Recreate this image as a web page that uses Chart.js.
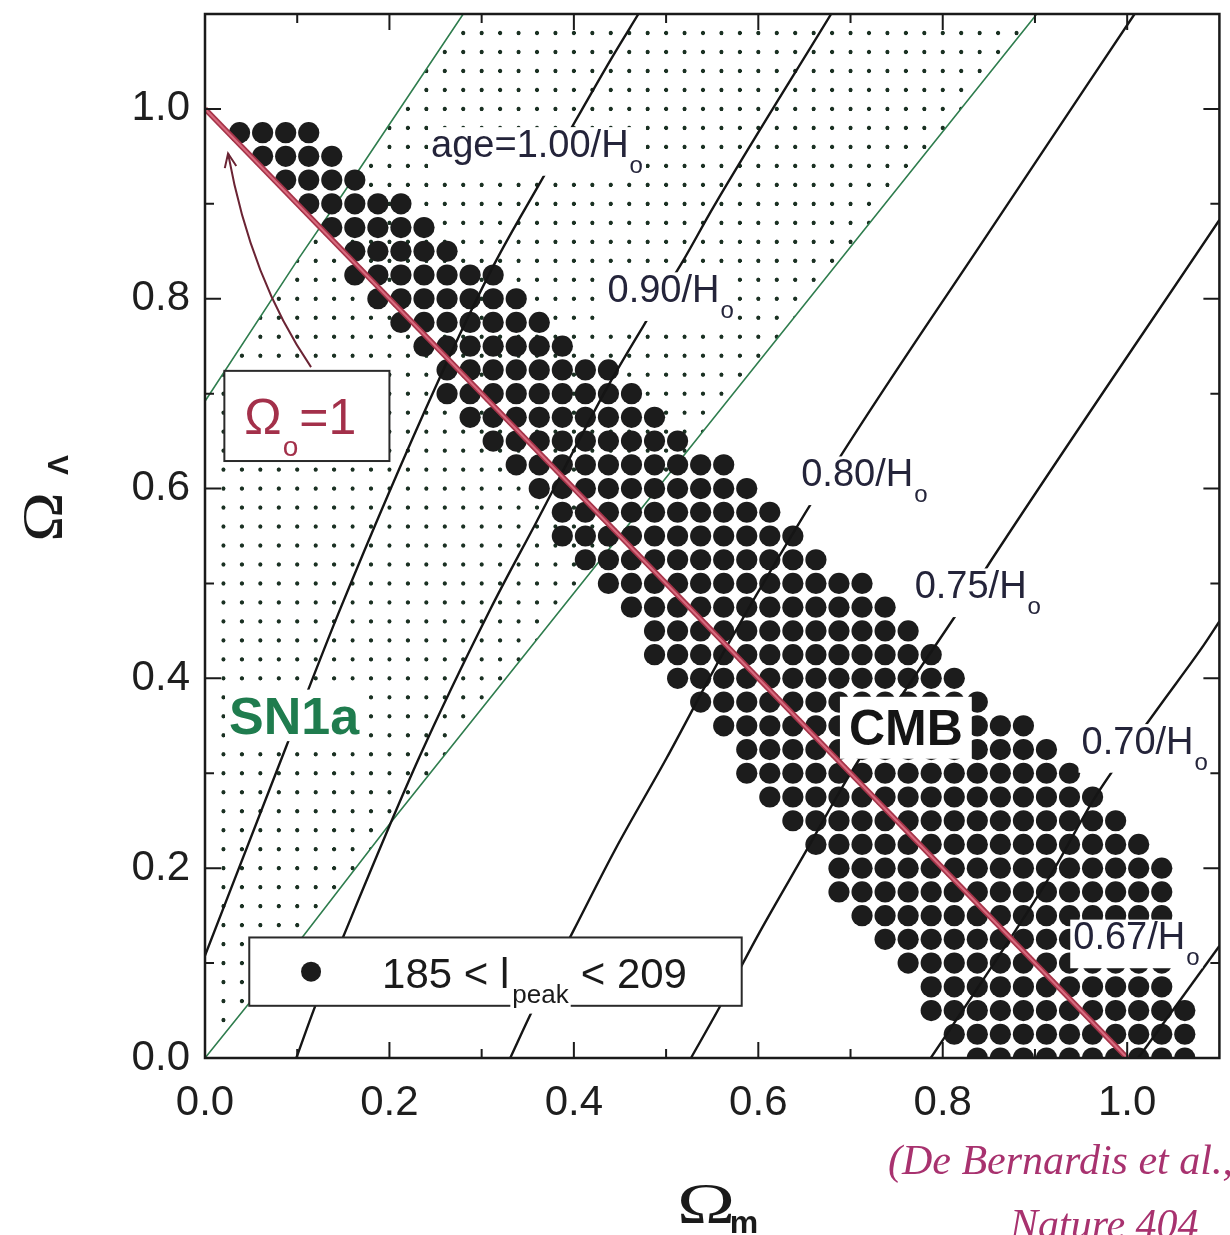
<!DOCTYPE html>
<html>
<head>
<meta charset="utf-8">
<title>CMB + SN1a constraints in the (Omega_m, Omega_Lambda) plane</title>
<script src="https://cdn.jsdelivr.net/npm/chart.js@4.4.1/dist/chart.umd.min.js"></script>
<style>
  html, body { margin: 0; padding: 0; background: #ffffff; }
  #wrap { position: relative; width: 1230px; height: 1235px; overflow: hidden; background:#fff; }
  canvas { display: block; }
</style>
</head>
<body>
<div id="wrap"><canvas id="chart" width="1230" height="1235"></canvas></div>
<script>
// ---------------- axes ----------------
const xTickValues = [0.0, 0.2, 0.4, 0.6, 0.8, 1.0];
const yTickValues = [0.0, 0.2, 0.4, 0.6, 0.8, 1.0];
const minorTickValues = [0.1, 0.3, 0.5, 0.7, 0.9];
const axisMin = 0.0;
const axisMax = 1.1;

// ---------------- CMB region: 185 < l_peak < 209 (grid of big dots) ----------------
// one entry per row: Omega_Lambda of the row, first and last Omega_m dot in that row
const cmbStep = 0.025;
const cmbLambda = [0.975,0.950,0.925,0.900,0.875,0.850,0.825,0.800,0.775,0.750,
                   0.725,0.700,0.675,0.650,0.625,0.600,0.575,0.550,0.525,0.500,
                   0.475,0.450,0.425,0.400,0.375,0.350,0.325,0.300,0.275,0.250,
                   0.225,0.200,0.175,0.150,0.125,0.100,0.075,0.050,0.025,0.000];
const cmbFromOm = [0.0375,0.0625,0.0875,0.1125,0.1375,0.1625,0.1625,0.1875,0.2125,0.2375,
                   0.2625,0.2625,0.2875,0.3125,0.3375,0.3625,0.3875,0.3875,0.4125,0.4375,
                   0.4625,0.4875,0.4875,0.5125,0.5375,0.5625,0.5875,0.5875,0.6125,0.6375,
                   0.6625,0.6875,0.6875,0.7125,0.7375,0.7625,0.7875,0.7875,0.8125,0.8375];
const cmbToOm   = [0.1125,0.1375,0.1625,0.2125,0.2375,0.2625,0.3125,0.3375,0.3625,0.3875,
                   0.4375,0.4625,0.4875,0.5125,0.5625,0.5875,0.6125,0.6375,0.6625,0.7125,
                   0.7375,0.7625,0.7875,0.8125,0.8375,0.8875,0.9125,0.9375,0.9625,0.9875,
                   1.0125,1.0375,1.0375,1.0375,1.0375,1.0375,1.0375,1.0625,1.0625,1.0625];

// ---------------- SN1a band (green boundaries, dotted inside) ----------------
const snLowerOm = [0.000, 0.107, 0.203, 0.520, 0.902];
const snLowerL  = [0.000, 0.129, 0.250, 0.636, 1.100];
const snUpperOm = [0.000, 0.0985, 0.152, 0.280];
const snUpperL  = [0.692, 0.838, 0.914, 1.100];
const snDotStep = 0.02;

// ---------------- age contours ----------------
const age100Om = [0.000, 0.088, 0.147, 0.250, 0.314, 0.362, 0.408, 0.440, 0.470];
const age100L  = [0.108, 0.328, 0.474, 0.707, 0.837, 0.920, 0.998, 1.052, 1.100];
const age090Om = [0.099, 0.120, 0.150, 0.232, 0.309, 0.359, 0.437, 0.487, 0.519, 0.551, 0.679];
const age090L  = [0.000, 0.056, 0.128, 0.316, 0.472, 0.564, 0.708, 0.790, 0.841, 0.896, 1.100];
const age080Om = [0.331, 0.355, 0.400, 0.445, 0.500, 0.566, 0.680, 0.850, 1.008];
const age080L  = [0.000, 0.050, 0.135, 0.220, 0.315, 0.434, 0.620, 0.870, 1.100];
const age075Om = [0.527, 0.556, 0.600, 0.650, 0.700, 0.784, 0.824, 0.857, 1.100];
const age075L  = [0.000, 0.050, 0.130, 0.215, 0.300, 0.423, 0.481, 0.531, 0.883];
const age070Om = [0.787, 0.838, 0.916, 0.966, 1.033, 1.083, 1.100];
const age070L  = [0.000, 0.074, 0.191, 0.276, 0.368, 0.435, 0.460];
const age067Om = [1.012, 1.100];
const age067L  = [0.000, 0.118];

// labels on the contours
const ageLabelText = ['age=1.00/H', '0.90/H', '0.80/H', '0.75/H', '0.70/H', '0.67/H'];
const ageLabelOm   = [0.360, 0.505, 0.715, 0.838, 1.019, 1.010];
const ageLabelL    = [0.964, 0.811, 0.617, 0.499, 0.335, 0.129];

// flat universe line Omega_o = Omega_m + Omega_Lambda = 1
const flatOm = [0.0, 1.0];
const flatL  = [1.0, 0.0];

// annotation anchors (data coordinates)
const cmbLabelPos  = [0.760, 0.349];
const snLabelPos   = [0.0966, 0.361];
const omegaBoxOm   = [0.021, 0.200];
const omegaBoxL    = [0.629, 0.724];
const arrowOm      = [0.115, 0.050, 0.025];
const arrowL       = [0.728, 0.820, 0.953];
const legendBoxOm  = [0.048, 0.582];
const legendBoxL   = [0.055, 0.127];
const legendDotOm  = 0.115;
const legendTextOm = 0.192;

const SANS  = "'Liberation Sans', Arial, Helvetica, sans-serif";
const SERIF = "'Liberation Serif', 'Times New Roman', serif";

// ---------------- build chart data ----------------
const pts = (xs, ys) => xs.map((v, k) => ({ x: v, y: ys[k] }));
const cmbPoints = [];
cmbLambda.forEach((L, r) => {
  const n = Math.round((cmbToOm[r] - cmbFromOm[r]) / cmbStep) + 1;
  for (let k = 0; k < n; k++) cmbPoints.push({ x: +(cmbFromOm[r] + k * cmbStep).toFixed(4), y: L });
});

const ageLine = (xs, ys, color) => ({
  type: 'line', data: pts(xs, ys), showLine: true, borderColor: color || '#151515',
  borderWidth: 2.4, pointRadius: 0, cubicInterpolationMode: 'monotone', fill: false, order: 3
});

// dot tile for the SN1a band
const tile = document.createElement('canvas');
tile.width = 40; tile.height = 40;
(function () {
  const t = tile.getContext('2d');
  t.fillStyle = '#1a3022';
  t.beginPath(); t.arc(20, 20, 4.5, 0, Math.PI * 2); t.fill();
})();

function measureRuns(ctx, runs) {
  let w = 0;
  for (const r of runs) { ctx.font = r.font; w += ctx.measureText(r.text).width + (r.gap || 0); }
  return w;
}
function drawRuns(ctx, x, base, runs) {
  let cx = x;
  for (const r of runs) {
    ctx.font = r.font; ctx.fillStyle = r.color;
    ctx.textAlign = 'left'; ctx.textBaseline = 'alphabetic';
    ctx.fillText(r.text, cx + (r.gap || 0), base + (r.dy || 0));
    cx += ctx.measureText(r.text).width + (r.gap || 0);
  }
  return cx;
}

const overlay = {
  id: 'overlay',
  beforeDatasetsDraw(chart) {
    const { ctx, chartArea: a, scales: { x, y } } = chart;
    ctx.save();
    ctx.beginPath();
    ctx.rect(a.left + 7, a.top + 7, a.right - a.left - 14, a.bottom - a.top - 12);
    ctx.clip();
    ctx.beginPath();
    snLowerOm.forEach((m, k) => {
      const X = x.getPixelForValue(m), Y = y.getPixelForValue(snLowerL[k]);
      if (k === 0) ctx.moveTo(X, Y); else ctx.lineTo(X, Y);
    });
    for (let k = snUpperOm.length - 1; k >= 0; k--) ctx.lineTo(x.getPixelForValue(snUpperOm[k]), y.getPixelForValue(snUpperL[k]));
    ctx.closePath();
    ctx.clip();
    const x0 = x.getPixelForValue(0), y0 = y.getPixelForValue(0);
    const sx = x.getPixelForValue(snDotStep) - x0;
    const sy = y0 - y.getPixelForValue(snDotStep);
    const pat = ctx.createPattern(tile, 'repeat');
    const ax = sx / 40, ay = sy / 40;
    pat.setTransform(new DOMMatrix([ax, 0, 0, ay, x0 - 20 * ax, y0 - 20 * ay]));
    ctx.fillStyle = pat;
    ctx.fillRect(a.left, a.top, a.right - a.left, a.bottom - a.top);
    ctx.restore();
  },
  afterDatasetsDraw(chart) {
    const { ctx, chartArea: a, scales: { x, y } } = chart;
    const X = v => x.getPixelForValue(v), Y = v => y.getPixelForValue(v);
    ctx.save();
    ctx.beginPath(); ctx.rect(a.left, a.top, a.right - a.left, a.bottom - a.top); ctx.clip();

    // age labels
    const F = 38, labCol = '#24243a';
    ageLabelText.forEach((t, k) => {
      const runs = [
        { text: t, font: `${F}px ${SANS}`, color: labCol },
        { text: 'o', font: `${Math.round(F * 0.62)}px ${SANS}`, color: labCol, dy: Math.round(F * 0.42), gap: 1 }
      ];
      const w = measureRuns(ctx, runs);
      const cx = X(ageLabelOm[k]), cy = Y(ageLabelL[k]);
      const base = cy + F * 0.36;
      const left = cx - w / 2;
      ctx.fillStyle = '#ffffff';
      ctx.fillRect(left - 3, base - F * 0.78, w + 6, F * 0.78 + F * 0.5);
      drawRuns(ctx, left, base, runs);
    });

    // CMB label
    {
      const f = 50;
      ctx.font = `bold ${f}px ${SANS}`;
      const w = ctx.measureText('CMB').width;
      const cx = X(cmbLabelPos[0]), cy = Y(cmbLabelPos[1]);
      ctx.fillStyle = '#ffffff';
      ctx.fillRect(cx - w / 2 - 9, cy - f * 0.36 - 12, w + 18, f * 0.72 + 26);
      ctx.fillStyle = '#151515'; ctx.textAlign = 'center'; ctx.textBaseline = 'alphabetic';
      ctx.fillText('CMB', cx, cy + f * 0.36);
    }
    // SN1a label
    {
      const f = 52;
      ctx.font = `bold ${f}px ${SANS}`;
      const w = ctx.measureText('SN1a').width;
      const cx = X(snLabelPos[0]), cy = Y(snLabelPos[1]);
      ctx.fillStyle = '#ffffff';
      ctx.fillRect(cx - w / 2 - 4, cy - f * 0.38 - 6, w + 8, f * 0.76 + 12);
      ctx.fillStyle = '#1f7c4e'; ctx.textAlign = 'center'; ctx.textBaseline = 'alphabetic';
      ctx.fillText('SN1a', cx, cy + f * 0.36);
    }

    // Omega_o = 1 box
    {
      const l = X(omegaBoxOm[0]), r = X(omegaBoxOm[1]);
      const t = Y(omegaBoxL[1]), b = Y(omegaBoxL[0]);
      ctx.fillStyle = '#ffffff'; ctx.fillRect(l, t, r - l, b - t);
      ctx.strokeStyle = '#2a2a2a'; ctx.lineWidth = 2; ctx.strokeRect(l, t, r - l, b - t);
      const red = '#a3304a';
      drawRuns(ctx, l + 20, t + 63, [
        { text: 'Ω', font: `50px ${SANS}`, color: red },
        { text: 'o', font: `28px ${SANS}`, color: red, dy: 22, gap: 1 },
        { text: '=1', font: `50px ${SANS}`, color: red, gap: 1 }
      ]);
      // curved arrow to the flat line
      const p0 = [X(arrowOm[0]), Y(arrowL[0])], p1 = [X(arrowOm[1]), Y(arrowL[1])], p2 = [X(arrowOm[2]), Y(arrowL[2])];
      ctx.strokeStyle = '#6b2434'; ctx.lineWidth = 2;
      ctx.beginPath(); ctx.moveTo(p0[0], p0[1]); ctx.quadraticCurveTo(p1[0], p1[1], p2[0], p2[1]); ctx.stroke();
      const ang = Math.atan2(p2[1] - p1[1], p2[0] - p1[0]);
      ctx.beginPath();
      ctx.moveTo(p2[0] - 15 * Math.cos(ang - 0.4), p2[1] - 15 * Math.sin(ang - 0.4));
      ctx.lineTo(p2[0], p2[1]);
      ctx.lineTo(p2[0] - 15 * Math.cos(ang + 0.4), p2[1] - 15 * Math.sin(ang + 0.4));
      ctx.stroke();
    }

    // legend box
    {
      const l = X(legendBoxOm[0]), r = X(legendBoxOm[1]);
      const t = Y(legendBoxL[1]), b = Y(legendBoxL[0]);
      ctx.fillStyle = '#ffffff'; ctx.fillRect(l, t, r - l, b - t);
      ctx.strokeStyle = '#2a2a2a'; ctx.lineWidth = 2; ctx.strokeRect(l, t, r - l, b - t);
      const mid = (t + b) / 2;
      ctx.fillStyle = '#1c1c1c';
      ctx.beginPath(); ctx.arc(X(legendDotOm), mid, 10, 0, Math.PI * 2); ctx.fill();
      const base = mid + 16;
      let cx = drawRuns(ctx, X(legendTextOm), base, [{ text: '185 < l', font: `42px ${SANS}`, color: '#1a1a1a' }]);
      ctx.font = `26px ${SANS}`;
      const wp = ctx.measureText('peak').width;
      ctx.fillStyle = '#ffffff'; ctx.fillRect(cx + 1, base + 4, wp + 4, 22);
      cx = drawRuns(ctx, cx + 3, base + 15, [{ text: 'peak', font: `26px ${SANS}`, color: '#1a1a1a' }]);
      drawRuns(ctx, cx + 12, base, [{ text: '< 209', font: `42px ${SANS}`, color: '#1a1a1a' }]);
    }
    ctx.restore();
  },
  afterDraw(chart) {
    const { ctx, chartArea: a, scales: { x, y } } = chart;
    ctx.save();
    // frame
    ctx.strokeStyle = '#1a1a1a'; ctx.lineWidth = 2.5;
    ctx.strokeRect(a.left, a.top, a.right - a.left, a.bottom - a.top);
    // inward ticks on all four sides
    ctx.lineWidth = 2;
    const tick = (vals, len) => {
      vals.forEach(v => {
        const px = x.getPixelForValue(v), py = y.getPixelForValue(v);
        ctx.beginPath();
        ctx.moveTo(px, a.bottom); ctx.lineTo(px, a.bottom - len);
        ctx.moveTo(px, a.top); ctx.lineTo(px, a.top + len);
        ctx.moveTo(a.left, py); ctx.lineTo(a.left + len, py);
        ctx.moveTo(a.right, py); ctx.lineTo(a.right - len, py);
        ctx.stroke();
      });
    };
    tick(xTickValues.slice(1), 16);
    tick(minorTickValues, 9);

    // x title  Omega_m
    ctx.fillStyle = '#1a1a1a';
    ctx.save();
    ctx.translate(706, 1208); ctx.scale(1.35, 1);
    ctx.font = `58px ${SERIF}`; ctx.textAlign = 'center'; ctx.textBaseline = 'middle';
    ctx.fillText('Ω', 0, 0);
    ctx.restore();
    ctx.font = `bold 32px ${SANS}`; ctx.textAlign = 'center'; ctx.textBaseline = 'middle';
    ctx.fillText('m', 744, 1224);

    // y title Omega_Lambda (rotated)
    ctx.save();
    ctx.translate(47, 517); ctx.rotate(-Math.PI / 2);
    ctx.save(); ctx.scale(1.15, 1);
    ctx.font = `58px ${SERIF}`; ctx.textAlign = 'center'; ctx.textBaseline = 'middle';
    ctx.fillText('Ω', 0, 0);
    ctx.restore();
    ctx.font = `bold 30px ${SANS}`; ctx.textAlign = 'center'; ctx.textBaseline = 'middle';
    ctx.fillText('Λ', 52, 13);
    ctx.restore();

    // hand-written reference note
    ctx.fillStyle = '#a8326f';
    ctx.font = `italic 42px ${SERIF}`; ctx.textAlign = 'left'; ctx.textBaseline = 'alphabetic';
    ctx.fillText('(De Bernardis et al.,', 888, 1174);
    ctx.fillText('Nature 404', 1010, 1238);
    ctx.restore();
  }
};

const chart = new Chart(document.getElementById('chart'), {
  type: 'scatter',
  data: {
    datasets: [
      { type: 'line', label: 'SN1a lower', data: pts(snLowerOm, snLowerL), showLine: true, borderColor: '#2f7d4e', borderWidth: 1.6, pointRadius: 0, fill: false, order: 6 },
      { type: 'line', label: 'SN1a upper', data: pts(snUpperOm, snUpperL), showLine: true, borderColor: '#2f7d4e', borderWidth: 1.6, pointRadius: 0, fill: false, order: 6 },
      { type: 'scatter', label: '185 < l_peak < 209', data: cmbPoints, pointRadius: 10.6, pointBackgroundColor: '#1c1c1c', pointBorderWidth: 0, clip: 0, order: 5 },
      ageLine(age100Om, age100L),
      ageLine(age090Om, age090L),
      ageLine(age080Om, age080L),
      ageLine(age075Om, age075L),
      ageLine(age070Om, age070L),
      ageLine(age067Om, age067L),
      { type: 'line', label: 'flat', data: pts(flatOm, flatL), showLine: true, borderColor: '#a63449', borderWidth: 5.5, pointRadius: 0, fill: false, order: 2 },
      { type: 'line', label: 'flat core', data: pts(flatOm, flatL), showLine: true, borderColor: '#d86a7e', borderWidth: 2.2, pointRadius: 0, fill: false, order: 1 }
    ]
  },
  options: {
    responsive: false,
    devicePixelRatio: 1,
    animation: false,
    events: [],
    layout: { padding: { left: 0, right: 4, top: 14, bottom: 0 } },
    plugins: { legend: { display: false }, tooltip: { enabled: false }, title: { display: false } },
    scales: {
      x: {
        type: 'linear', position: 'bottom', min: axisMin, max: axisMax,
        grid: { display: false, drawTicks: false }, border: { display: false },
        afterBuildTicks: s => { s.ticks = xTickValues.map(v => ({ value: v })); },
        afterFit: s => { s.height = 177; s.paddingLeft = 0; s.paddingRight = 0; },
        ticks: { font: { size: 42, family: SANS }, color: '#1e1e1e', padding: 20, maxRotation: 0, autoSkip: false,
                 callback: v => Number(v).toFixed(1) }
      },
      y: {
        type: 'linear', position: 'left', min: axisMin, max: axisMax,
        grid: { display: false, drawTicks: false }, border: { display: false },
        afterBuildTicks: s => { s.ticks = yTickValues.map(v => ({ value: v })); },
        afterFit: s => { s.width = 205; s.paddingTop = 0; s.paddingBottom = 0; },
        ticks: { font: { size: 42, family: SANS }, color: '#1e1e1e', padding: 15, autoSkip: false,
                 callback: v => Number(v).toFixed(1) }
      }
    }
  },
  plugins: [overlay]
});
</script>
</body>
</html>
